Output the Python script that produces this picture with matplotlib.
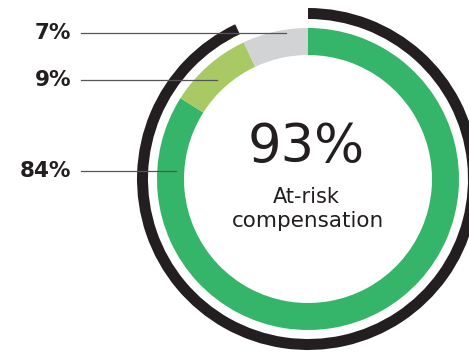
import matplotlib.pyplot as plt

# shares of pay, clockwise from 12 o'clock
shares = [84, 9, 7]
share_labels = ['84%', '9%', '7%']
share_colors = ['#34b56a', '#a9c965', '#d1d3d4']
at_risk = [93, 7]

plt.rcParams['font.family'] = ['DejaVu Sans']

fig = plt.figure(figsize=(4.69, 3.52), dpi=100)
ax = fig.add_axes([0, 0, 1, 1])

cx, cy = 308, 173

# main donut
ax.pie(shares, colors=share_colors, startangle=90, counterclock=False,
       radius=151, center=(cx, cy), wedgeprops=dict(width=27, linewidth=0))

# outer black arc = at-risk share
ax.pie(at_risk, colors=['#231f20', 'none'], startangle=90, counterclock=False,
       radius=171, center=(cx, cy), wedgeprops=dict(width=11, linewidth=0))

ax.set_xlim(0, 469)
ax.set_ylim(0, 352)
ax.set_aspect('equal')
ax.axis('off')

# labels on the left with leader lines
label_y = [352 - 171, 352 - 80, 352 - 33]
line_end = [176, 217, 286]
for lab, y, xe in zip(share_labels, label_y, line_end):
    ax.text(71, y, lab, ha='right', va='center', fontsize=15.5,
            fontweight='bold', color='#231f20')
    ax.plot([81, xe], [y, y], color='#555555', lw=0.9)

ax.text(cx - 2, 352 - 147, '93%', ha='center', va='center', fontsize=38,
        color='#231f20')
ax.text(cx - 2, 352 - 197, 'At-risk', ha='center', va='center', fontsize=15,
        color='#231f20')
ax.text(cx, 352 - 221, 'compensation', ha='center', va='center', fontsize=15.5,
        color='#231f20')

plt.savefig('out.png', dpi=100)
